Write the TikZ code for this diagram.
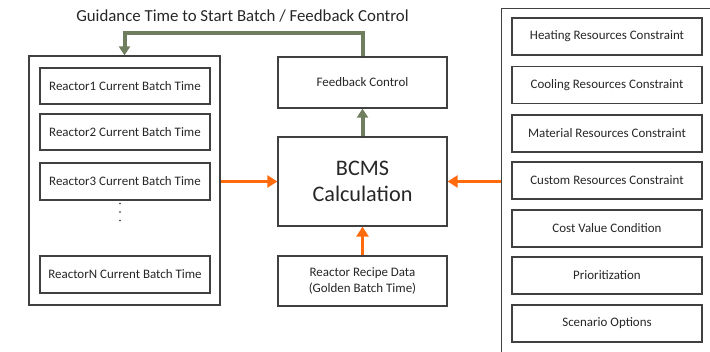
\documentclass[tikz,border=0pt]{standalone}
\usepackage{fontspec}
\setmainfont{Carlito}
\usetikzlibrary{arrows.meta,positioning}
\definecolor{edgegray}{RGB}{64,64,64}
\definecolor{fbgreen}{RGB}{110,126,94}
\definecolor{inorange}{RGB}{255,106,10}
\definecolor{txtgray}{RGB}{38,38,38}
\tikzset{
  box/.style={draw=edgegray, line width=1.3bp, rectangle, inner sep=0pt, align=center, text=txtgray, font=\fontsize{13}{16}\selectfont},
  frame/.style={draw=edgegray, line width=1.3bp, rectangle, inner sep=0pt},
  dot/.style={circle, fill=txtgray, inner sep=0pt, minimum size=1.8bp},
  garrow/.style={draw=fbgreen, line width=4bp, -{Triangle[width=11bp,length=9bp]}},
  oarrow/.style={draw=inorange, line width=3.2bp, -{Triangle[width=12bp,length=10bp]}},
}
\begin{document}
\begin{tikzpicture}[x=1bp,y=-1bp]
\useasboundingbox (0,0) rectangle (710,351);
% left panel
\node[frame, minimum width=191bp, minimum height=249bp] (leftbox) at (124.5,180.5) {};
\node[box, minimum width=170bp, minimum height=36bp] (r1) at (125,86) {Reactor1 Current Batch Time};
\node[box, minimum width=170bp, minimum height=36bp] (r2) at (125,132) {Reactor2 Current Batch Time};
\node[box, minimum width=170bp, minimum height=37bp] (r3) at (125,181.5) {Reactor3 Current Batch Time};
\node[dot] (d1) at (120,203.5) {};
\node[dot] (d2) at (120,212) {};
\node[dot] (d3) at (120,220.5) {};
\node[box, minimum width=170bp, minimum height=37bp] (rn) at (125,274.5) {ReactorN Current Batch Time};
% center
\node[box, minimum width=169bp, minimum height=51bp] (fb) at (362.5,82.5) {Feedback Control};
\node[box, minimum width=169bp, minimum height=89bp, font=\fontsize{22.3}{26}\selectfont] (bcms) at (362.5,181.5) {BCMS\\Calculation};
\node[box, minimum width=169bp, minimum height=50bp] (recipe) at (362.5,281) {Reactor Recipe Data\\(Golden Batch Time)};
% right panel (cut off by the picture edge)
\begin{scope}
\clip (0,0) rectangle (710,351);
\node[frame, minimum width=220bp, minimum height=360bp, anchor=north west] (rightbox) at (501,8) {};
\end{scope}
\node[box, minimum width=190bp, minimum height=37bp] (c1) at (607,36.5) {Heating Resources Constraint};
\node[box, minimum width=190bp, minimum height=37bp] (c2) at (607,85) {Cooling Resources Constraint};
\node[box, minimum width=190bp, minimum height=37bp] (c3) at (607,133.5) {Material Resources Constraint};
\node[box, minimum width=190bp, minimum height=37bp] (c4) at (607,180.5) {Custom Resources Constraint};
\node[box, minimum width=190bp, minimum height=37bp] (c5) at (607,228.5) {Cost Value Condition};
\node[box, minimum width=190bp, minimum height=37bp] (c6) at (607,275.5) {Prioritization};
\node[box, minimum width=190bp, minimum height=37bp] (c7) at (607,323.5) {Scenario Options};
% title
\node[text=txtgray, inner sep=0pt, font=\fontsize{16.9}{20}\selectfont] (title) at (242.5,16) {Guidance Time to Start Batch / Feedback Control};
% connectors
\coordinate (turn) at (362.5,33);
\draw[garrow] (fb.north) -- (turn) -| (leftbox.north);
\draw[garrow] (bcms.north) -- (fb.south);
\draw[oarrow] (leftbox.east |- bcms.west) -- (bcms.west);
\draw[oarrow] (rightbox.west |- bcms.east) -- (bcms.east);
\draw[oarrow] (recipe.north) -- (bcms.south);
\end{tikzpicture}
\end{document}
